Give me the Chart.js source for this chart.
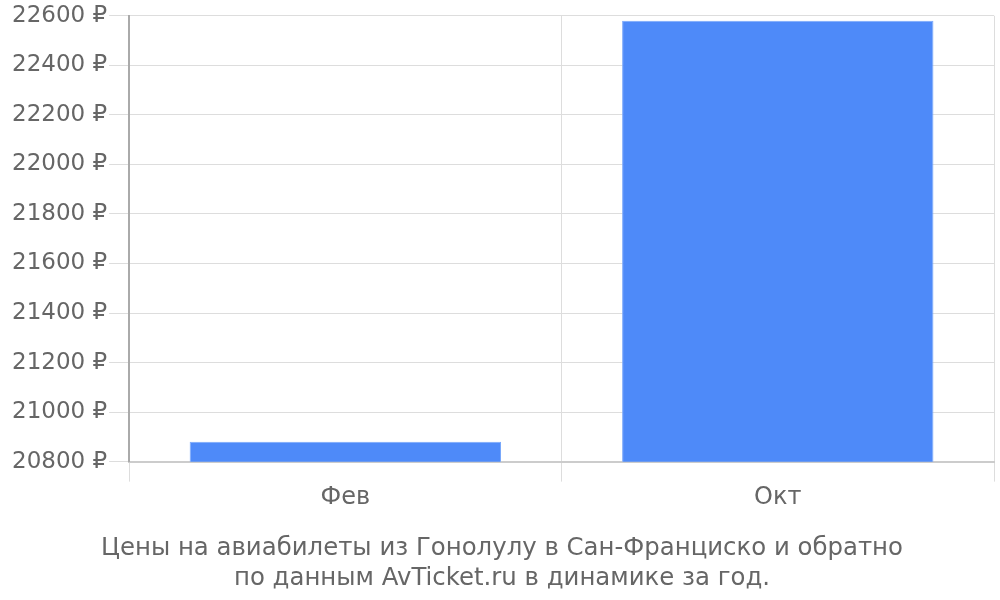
<!DOCTYPE html>
<html>
<head>
<meta charset="utf-8">
<script src="https://cdn.jsdelivr.net/npm/chart.js@4"></script>
<style>
  html, body { margin: 0; padding: 0; background: #fff; }
  #wrap { width: 1000px; height: 600px; }
</style>
</head>
<body>
<div id="wrap"><canvas id="priceChart"></canvas></div>
<script>
const months = ['Фев', 'Окт'];
const prices = [20880, 22580];
const titleLines = [
  'Цены на авиабилеты из Гонолулу в Сан-Франциско и обратно',
  'по данным AvTicket.ru в динамике за год.'
];

document.addEventListener('DOMContentLoaded', () => {
  const canvas = document.getElementById('priceChart');

  new Chart(canvas.getContext('2d'), {
    type: 'bar',
    data: {
      labels: months,
      datasets: [{
        data: prices,
        backgroundColor: '#4e8af9',
        borderColor: '#7aa8fb',
        borderWidth: 1
      }]
    },
    options: {
      responsive: true,
      maintainAspectRatio: false,
      animation: false,
      layout: { padding: { left: 10, right: 6 } },
      plugins: {
        legend: { display: false },
        tooltip: { enabled: false },
        title: {
          display: true,
          position: 'bottom',
          text: titleLines,
          color: '#666',
          padding: { top: 20, bottom: 7 },
          font: { family: 'DejaVu Sans', size: 24.4, weight: 'normal', lineHeight: 1.2 }
        }
      },
      scales: {
        x: {
          grid: { color: '#dddddd', tickLength: 20 },
          border: { color: '#cccccc', width: 2 },
          ticks: {
            color: '#666',
            padding: 2,
            font: { family: 'DejaVu Sans', size: 24 }
          }
        },
        y: {
          min: 20800,
          max: 22600,
          grid: { color: '#dddddd', tickLength: 20 },
          border: { color: '#aaaaaa', width: 2 },
          ticks: {
            stepSize: 200,
            color: '#666',
            padding: 2,
            font: { family: 'DejaVu Sans', size: 23 },
            callback: v => v + ' ₽'
          }
        }
      }
    }
  });
});
</script>
</body>
</html>
